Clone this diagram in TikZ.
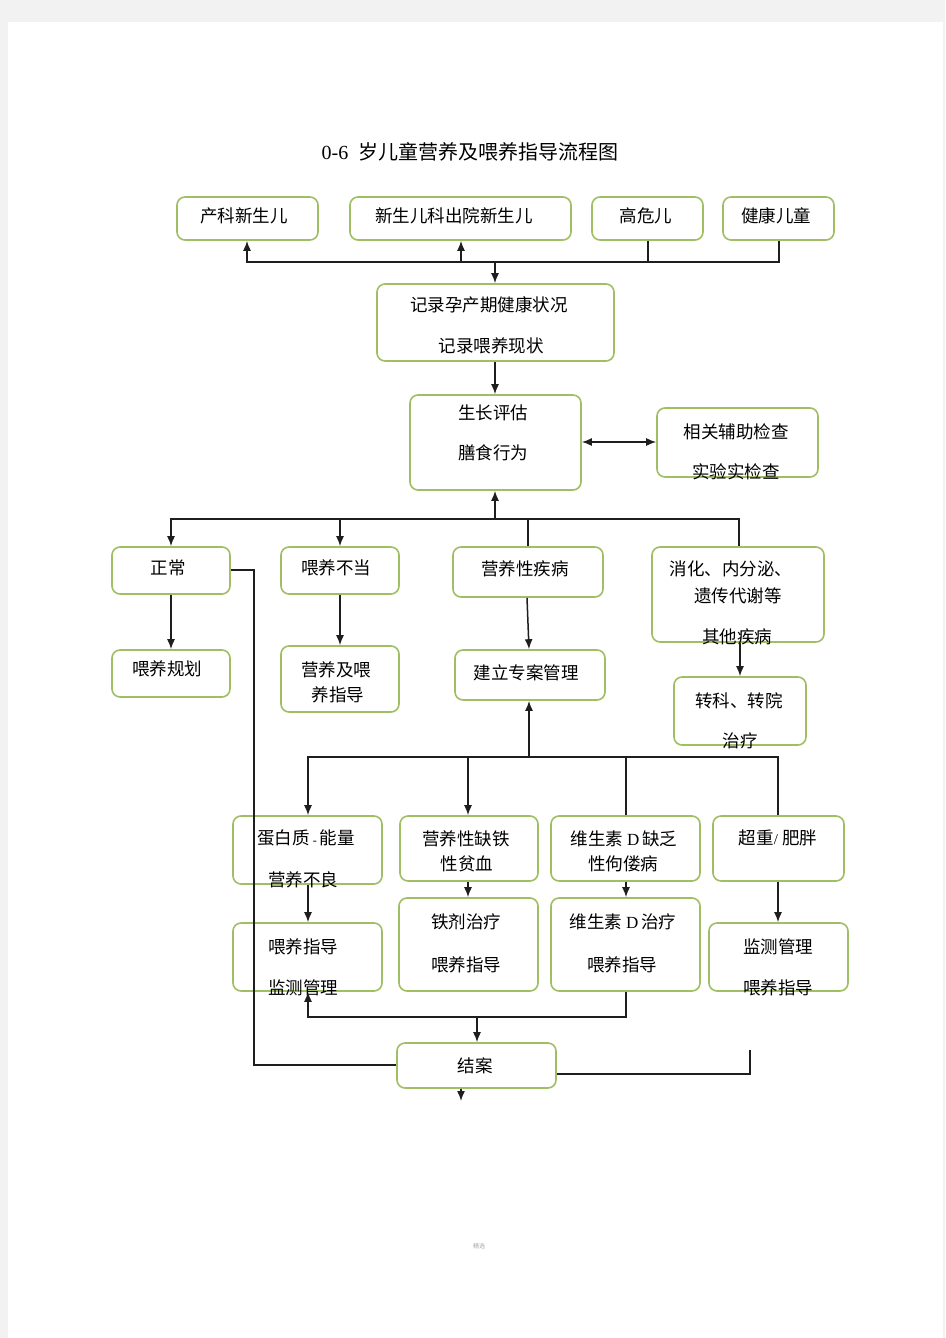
\documentclass[tikz,border=0pt]{standalone}
\usepackage{fontspec}
\setmainfont{Liberation Serif}
\newfontfamily\cjk{Noto Sans CJK SC}
\usetikzlibrary{arrows.meta,fit}
\definecolor{boxgreen}{RGB}{160,190,100}
\definecolor{pagegray}{RGB}{242,242,242}
\definecolor{linegray}{RGB}{30,30,30}
\tikzset{
  box/.style={draw=boxgreen, line width=1.6pt, rounded corners=8pt, fill=white, inner sep=0pt},
  txt/.style={font=\cjk\fontsize{17.5}{19}\selectfont, inner sep=0pt, anchor=center},
  conn/.style={draw=linegray, line width=1.5pt},
  arr/.style={conn, -{Latex[length=10pt,width=8pt]}},
  darr/.style={conn, {Latex[length=10pt,width=8pt]}-{Latex[length=10pt,width=8pt]}},
}
\newcommand\mkbox[5]{\node[box, fit={(#2,#3) (#4,#5)}] (#1) {};}
\begin{document}
\begin{tikzpicture}[x=1pt,y=-1pt]
\useasboundingbox (0,0) rectangle (945,1338);
\fill[pagegray] (0,0) rectangle (945,1338);
\fill[white] (8,22) rectangle (943,1338);

% title
\node[inner sep=0pt] (title) at (470,152) {\fontsize{20}{22}\selectfont 0-6\ \ {\cjk\fontsize{20}{22}\selectfont 岁儿童营养及喂养指导流程图}};

% row 1
\mkbox{b1}{177}{197}{318}{240}
\mkbox{b2}{350}{197}{571}{240}
\mkbox{b3}{592}{197}{703}{240}
\mkbox{b4}{723}{197}{834}{240}
\node[txt] (t1) at (244,216) {产科新生儿};
\node[txt] (t2) at (454,216) {新生儿科出院新生儿};
\node[txt] (t3) at (646,216) {高危儿};
\node[txt] (t4) at (776,216) {健康儿童};

\mkbox{rec}{377}{284}{614}{361}
\node[txt] (trec1) at (489,305) {记录孕产期健康状况};
\node[txt] (trec2) at (491,346) {记录喂养现状};

\mkbox{grow}{410}{395}{581}{490}
\node[txt] (tg1) at (493,413) {生长评估};
\node[txt] (tg2) at (493,453) {膳食行为};

\mkbox{aux}{657}{408}{818}{477}
\node[txt] (ta1) at (736,432) {相关辅助检查};
\node[txt] (ta2) at (736,472) {实验实检查};

% row 3
\mkbox{norm}{112}{547}{230}{594}
\mkbox{bad}{281}{547}{399}{594}
\mkbox{dis}{453}{547}{603}{597}
\mkbox{oth}{652}{547}{824}{642}
\node[txt] (tn) at (168,568) {正常};
\node[txt] (tb) at (336,568) {喂养不当};
\node[txt] (td) at (525,569) {营养性疾病};
\node[txt] (to1) at (731,569) {消化、内分泌、};
\node[txt] (to2) at (738,596) {遗传代谢等};
\node[txt] (to3) at (737,637) {其他疾病};

\mkbox{plan}{112}{650}{230}{697}
\mkbox{guide}{281}{646}{399}{712}
\mkbox{proj}{455}{650}{605}{700}
\mkbox{trans}{674}{677}{806}{745}
\node[txt] (tp) at (167,669) {喂养规划};
\node[txt] (tgu1) at (336,670) {营养及喂};
\node[txt] (tgu2) at (338,695) {养指导};
\node[txt] (tpr) at (526,673) {建立专案管理};
\node[txt] (ttr1) at (739,701) {转科、转院};
\node[txt] (ttr2) at (740,741) {治疗};

% row 5
\mkbox{pem}{233}{816}{382}{884}
\mkbox{ida}{400}{816}{538}{881}
\mkbox{vd}{551}{816}{700}{881}
\mkbox{obe}{713}{816}{844}{881}
\node[txt] (tpem1) at (306,838) {蛋白质\,{\rmfamily\fontsize{12}{14}\selectfont -}\,能量};
\node[txt] (tpem2) at (303,880) {营养不良};
\node[txt] (tida1) at (466,839) {营养性缺铁};
\node[txt] (tida2) at (467,864) {性贫血};
\node[txt] (tvd1) at (624,839) {维生素\ {\rmfamily\fontsize{17}{18}\selectfont D}\,缺乏};
\node[txt] (tvd2) at (623,864) {性佝偻病};
\node[txt] (tobe) at (778,838) {超重{\rmfamily\fontsize{15}{16}\selectfont /}\ 肥胖};

\mkbox{fg}{233}{923}{382}{991}
\mkbox{iron}{399}{898}{538}{991}
\mkbox{vdt}{551}{898}{700}{991}
\mkbox{mon}{709}{923}{848}{991}
\node[txt] (tfg1) at (303,947) {喂养指导};
\node[txt] (tfg2) at (303,988) {监测管理};
\node[txt] (tir1) at (466,922) {铁剂治疗};
\node[txt] (tir2) at (466,965) {喂养指导};
\node[txt] (tvt1) at (623,922) {维生素\ {\rmfamily\fontsize{17}{18}\selectfont D}\,治疗};
\node[txt] (tvt2) at (622,965) {喂养指导};
\node[txt] (tmo1) at (778,947) {监测管理};
\node[txt] (tmo2) at (778,988) {喂养指导};

\mkbox{end}{397}{1043}{556}{1088}
\node[txt] (tend) at (475,1066) {结案};

% footer
\node[font=\cjk\fontsize{6}{7}\selectfont, text=black!35, inner sep=0pt] (foot) at (479,1246) {精选};

% ---------- connectors ----------
\coordinate (j1) at (495,262);
\draw[conn] (b3.south -| 648,0) |- (j1);
\draw[conn] (b4.south -| 779,0) |- (j1);
\draw[arr] (j1) -| (b1.south -| 247,0);
\draw[arr] (j1) -| (b2.south -| 461,0);
\draw[arr] (j1) -- (rec.north -| 495,0);
\draw[arr] (rec.south -| 495,0) -- (grow.north -| 495,0);
\draw[darr] (grow.east |- 0,442) -- (aux.west |- 0,442);

\coordinate (j2) at (495,519);
\draw[arr] (j2) -- (grow.south -| 495,0);
\draw[arr] (j2) -| (norm.north -| 171,0);
\draw[arr] (j2) -| (bad.north -| 340,0);
\draw[conn] (j2) -| (dis.north -| 528,0);
\draw[conn] (j2) -| (oth.north -| 739,0);

\draw[arr] (norm.south -| 171,0) -- (plan.north -| 171,0);
\draw[arr] (bad.south -| 340,0) -- (guide.north -| 340,0);
\draw[arr] (dis.south -| 527,0) -- (proj.north -| 529,0);
\draw[arr] (oth.south -| 740,0) -- (trans.north -| 740,0);

\draw[conn] (norm.east |- 0,570) -- (254,570) |- (end.west |- 0,1065);

\coordinate (j3) at (529,757);
\draw[arr] (j3) -- (proj.south -| 529,0);
\draw[arr] (j3) -| (pem.north -| 308,0);
\draw[arr] (j3) -| (ida.north -| 468,0);
\draw[conn] (j3) -| (vd.north -| 626,0);
\draw[conn] (j3) -| (obe.north -| 778,0);

\draw[arr] (pem.south -| 308,0) -- (fg.north -| 308,0);
\draw[arr] (ida.south -| 468,0) -- (iron.north -| 468,0);
\draw[arr] (vd.south -| 626,0) -- (vdt.north -| 626,0);
\draw[arr] (obe.south -| 778,0) -- (mon.north -| 778,0);

\coordinate (j4) at (477,1017);
\draw[conn] (vdt.south -| 626,0) |- (j4);
\draw[arr] (j4) -| (fg.south -| 308,0);
\draw[arr] (j4) -- (end.north -| 477,0);

\coordinate (c1) at (750,1050);
\draw[conn] (end.east |- 0,1074) -| (c1);
\coordinate (c2) at (461,1101);
\draw[arr] (end.south -| 461,0) -- (c2);
\end{tikzpicture}
\end{document}
